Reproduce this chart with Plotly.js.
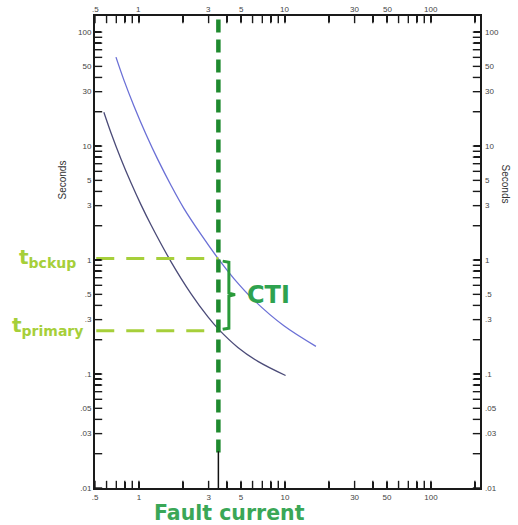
<!DOCTYPE html>
<html>
<head>
<meta charset="utf-8">
<script src="https://cdn.plot.ly/plotly-3.0.1.min.js"></script>
<style>html,body{margin:0;padding:0;background:#fff;}#chart{width:518px;height:525px;}</style>
</head>
<body>
<div id="chart"></div>
<script>
// ---- data ----
const backupCurrent = [0.696,0.789,0.924,1.117,1.35,1.66,2.03,2.66,3.5,4.47,6.13,9.84,16.3];
const backupTime    = [60.3,37.9,22.5,12.7,7.56,4.51,2.84,1.676,1.023,0.688,0.445,0.265,0.175];
const primaryCurrent = [0.575,0.643,0.753,0.882,1.03,1.21,1.66,2.27,2.97,3.53,4.76,6.53,10.1];
const primaryTime    = [19.8,13.1,7.71,4.76,3.08,2.03,0.965,0.508,0.317,0.245,0.171,0.129,0.097];
const faultCurrent = 3.5;
const tBackup = 1.03;
const tPrimary = 0.24;
const xTickVals = [0.5,1,3,5,10,30,50,100];
const xTickText = ['.5','1','3','5','10','30','50','100'];
const yTickVals = [100,50,30,10,5,3,1,0.5,0.3,0.1,0.05,0.03,0.01];
const yTickText = ['100','50','30','10','5','3','1','.5','.3','.1','.05','.03','.01'];

function allTicks(lo, hi, major, majorText){
  const vals=[], text=[];
  for(let d=-3; d<=3; d++){
    for(let m=1; m<=9; m++){
      const v = +(m*Math.pow(10,d)).toPrecision(3);
      if(v>=lo && v<=hi){
        vals.push(v);
        const i = major.indexOf(v);
        text.push(i>=0 ? majorText[i] : '');
      }
    }
  }
  return {vals, text};
}
const W=518, H=525, M={l:95, r:38, t:16, b:37};
const xRange=[Math.log10(0.5), 2.336];
const yRange=[-2, 2.141];
const xT = allTicks(0.5, 216, xTickVals, xTickText);
const yT = allTicks(0.01, 138, yTickVals, yTickText);

const tickFont = {family:'Liberation Sans, Arial, sans-serif', size:8, color:'#444'};
function makeAxis(range, t){
  return {
    type:'log', range:range, autorange:false, showgrid:false, zeroline:false,
    showline:true, linecolor:'#1a1a1a', linewidth:2, mirror:'allticks',
    ticks:'inside', ticklen:6, tickwidth:1.5, tickcolor:'#1a1a1a', tickangle:0,
    tickfont:tickFont, tickmode:'array', tickvals:t.vals, ticktext:t.text
  };
}

const lightGreen = '#a6cf3a';
const darkGreen = '#1e8a2e';
const mid = Math.sqrt(tBackup*tPrimary);

// inward tick marks along all four frame sides (offset 3 px inside the frame)
const decX = 3*(xRange[1]-xRange[0])/(W-M.l-M.r);
const decY = 3*(yRange[1]-yRange[0])/(H-M.t-M.b);
const tickMarker = (sym)=>({symbol:sym, size:6, color:'#1a1a1a', line:{color:'#1a1a1a', width:1.4}});
const tickTraces = [
  {x:xT.vals, y:xT.vals.map(()=>Math.pow(10, yRange[0]+decY)), mode:'markers', marker:tickMarker('line-ns-open'), cliponaxis:false, hoverinfo:'skip'},
  {x:xT.vals, y:xT.vals.map(()=>Math.pow(10, yRange[1]-decY)), mode:'markers', marker:tickMarker('line-ns-open'), cliponaxis:false, hoverinfo:'skip'},
  {x:yT.vals.map(()=>Math.pow(10, xRange[0]+decX)), y:yT.vals, mode:'markers', marker:tickMarker('line-ew-open'), cliponaxis:false, hoverinfo:'skip'},
  {x:yT.vals.map(()=>Math.pow(10, xRange[1]-decX)), y:yT.vals, mode:'markers', marker:tickMarker('line-ew-open'), cliponaxis:false, hoverinfo:'skip'}
];

const traces = [
  {x:backupCurrent, y:backupTime, mode:'lines', line:{color:'#6b70d6', width:1.3, shape:'spline'}, hoverinfo:'skip'},
  {x:primaryCurrent, y:primaryTime, mode:'lines', line:{color:'#4b4b78', width:1.3, shape:'spline'}, hoverinfo:'skip'},
  {x:[xTickVals[0]*1.02, faultCurrent], y:[tBackup, tBackup], mode:'lines', line:{color:lightGreen, width:3, dash:'18px,12px'}},
  {x:[xTickVals[0]*1.02, faultCurrent], y:[tPrimary, tPrimary], mode:'lines', line:{color:lightGreen, width:3, dash:'18px,12px'}},
  {x:[faultCurrent, faultCurrent], y:[0.0205, 200], mode:'lines', line:{color:darkGreen, width:4.5, dash:'13px,7px'}},
  {x:[faultCurrent, faultCurrent], y:[0.01, 0.021], mode:'lines', line:{color:'#111', width:1.5}},
  {x:[faultCurrent*1.07, faultCurrent*1.18, faultCurrent*1.18, faultCurrent*1.3, faultCurrent*1.18, faultCurrent*1.18, faultCurrent*1.07],
   y:[tBackup*0.95, tBackup*0.93, mid*1.03, mid, mid*0.97, tPrimary*1.05, tPrimary*1.03],
   mode:'lines', line:{color:'#2a9a3a', width:3}}
].concat(tickTraces);

const annotations = [
  {xref:'paper', yref:'y', x:-0.045, y:Math.log10(tBackup), xanchor:'right', yanchor:'middle', showarrow:false, yshift:1,
   text:'t<sub>bckup</sub>', font:{family:'DejaVu Sans, sans-serif', size:20, color:lightGreen, weight:'bold'}},
  {xref:'paper', yref:'y', x:-0.025, y:Math.log10(tPrimary), xanchor:'right', yanchor:'middle', showarrow:false, yshift:5,
   text:'t<sub>primary</sub>', font:{family:'DejaVu Sans, sans-serif', size:20, color:lightGreen, weight:'bold'}},
  {xref:'x', yref:'y', x:Math.log10(faultCurrent*1.53), y:Math.log10(mid), xanchor:'left', yanchor:'middle', showarrow:false,
   text:'CTI', font:{family:'DejaVu Sans, sans-serif', size:24, color:'#2ea24f', weight:'bold'}},
  {xref:'x', yref:'paper', x:Math.log10(faultCurrent*1.19), y:-0.052, xanchor:'center', yanchor:'middle', showarrow:false,
   text:'Fault current', font:{family:'DejaVu Sans, sans-serif', size:20.5, color:'#3aa757', weight:'bold'}},
  {xref:'paper', yref:'paper', x:-0.085, y:0.652, xanchor:'center', yanchor:'middle', showarrow:false, textangle:-90,
   text:'Seconds', font:{family:'Liberation Sans, Arial, sans-serif', size:10, color:'#333'}},
  {xref:'paper', yref:'paper', x:1.065, y:0.645, xanchor:'center', yanchor:'middle', showarrow:false, textangle:90,
   text:'Seconds', font:{family:'Liberation Sans, Arial, sans-serif', size:10, color:'#333'}}
];
// mirrored tick labels (top and right)
xTickVals.forEach((v,i)=>annotations.push({xref:'x', yref:'paper', x:Math.log10(v), y:1, yanchor:'bottom', xanchor:'center',
  yshift:0, showarrow:false, text:xTickText[i], font:tickFont}));
yTickVals.forEach((v,i)=>annotations.push({xref:'paper', yref:'y', x:1, y:Math.log10(v), xanchor:'left', yanchor:'middle',
  xshift:3, showarrow:false, text:yTickText[i], font:tickFont}));

const layout = {
  width:W, height:H,
  margin:{l:M.l, r:M.r, t:M.t, b:M.b, pad:0},
  paper_bgcolor:'#fff', plot_bgcolor:'#fff',
  showlegend:false,
  xaxis: makeAxis(xRange, xT),
  yaxis: makeAxis(yRange, yT),
  annotations: annotations
};

Plotly.newPlot('chart', traces, layout, {staticPlot:true, displayModeBar:false});
</script>
</body>
</html>
